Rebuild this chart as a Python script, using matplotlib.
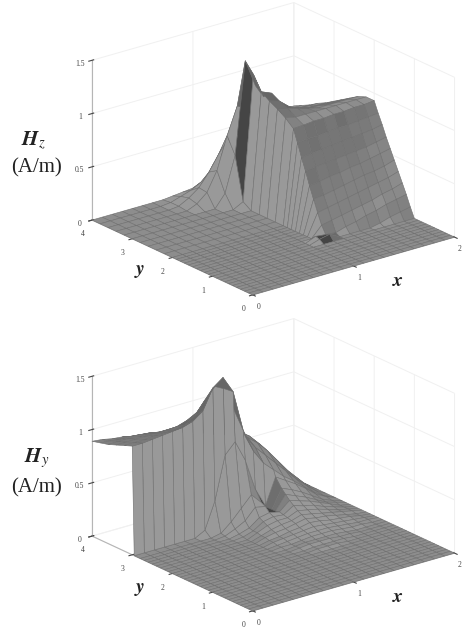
import numpy as np
import matplotlib
matplotlib.use('Agg')
import matplotlib.pyplot as plt

plt.rcParams['mathtext.fontset'] = 'stix'
plt.rcParams['font.family'] = ['Liberation Serif', 'DejaVu Serif']

x_vals = [0, .1, .2, .3, .4, .5, .6, .7, .8, .9, 1, 1.1, 1.2, 1.3, 1.4, 1.5, 1.6, 1.7, 1.8, 1.9, 2]
ZERO = [0, 0, 0, 0, 0, 0, 0, 0, 0, 0, 0, 0, 0, 0, 0, 0, 0, 0, 0, 0, 0]

# rows are y, columns are x
y_hz = [0, .1, .2, .3, .4, .5, .6, .7, .8, .9, 1, 1.1, 1.2, 1.3, 1.4, 1.5, 1.6, 1.7, 1.8, 1.9, 2,
        2.2, 2.4, 2.6, 2.8, 3, 3.2, 3.4, 3.6, 3.8, 4]
hz = [
    ZERO, ZERO, ZERO, ZERO, ZERO, ZERO, ZERO, ZERO, ZERO, ZERO, ZERO,
    [0, 0, 0, 0, 0, 0, 0, 0, 0, 0, 0, .03, .05, 0, 0, 0, 0, .02, .05, .07, .09],
    [0, 0, 0, 0, 0, 0, 0, 0, 0, 0, 0, .04, .03, .02, .05, .07, .1, .12, .15, .17, .19],
    [0, 0, 0, 0, 0, 0, 0, 0, 0, 0, 0, 0, .1, .12, .14, .16, .18, .2, .23, .25, .28],
    [0, 0, 0, 0, 0, 0, 0, 0, 0, 0, 0, 0, .2, .22, .24, .26, .28, .3, .32, .34, .37],
    [0, 0, 0, 0, 0, 0, 0, 0, 0, 0, 0, 0, .31, .32, .34, .36, .38, .4, .41, .43, .46],
    [0, 0, 0, 0, 0, 0, 0, 0, 0, 0, 0, 0, .42, .43, .45, .46, .48, .49, .51, .53, .55],
    [0, 0, 0, 0, 0, 0, 0, 0, 0, 0, 0, 0, .54, .55, .56, .57, .58, .59, .6, .62, .64],
    [0, 0, 0, 0, 0, 0, 0, 0, 0, 0, 0, 0, .65, .66, .67, .68, .69, .7, .71, .72, .74],
    [0, 0, 0, 0, 0, 0, 0, 0, 0, 0, 0, 0, .77, .78, .78, .79, .8, .8, .81, .82, .83],
    [0, 0, 0, 0, 0, 0, 0, 0, 0, 0, 0, 0, .885, .89, .9, .9, .91, .91, .92, .92, .93],
    [0, 0, 0, 0, 0, 0, 0, 0, 0, 0, 0, 0, .95, .93, .93, .93, .93, .93, .93, .93, .93],
    [0, 0, 0, 0, 0, 0, 0, 0, 0, 0, 0, 0, 1, .98, .95, .92, .9, .9, .9, .9, .9],
    [0, 0, 0, 0, 0, 0, 0, 0, 0, 0, 0, 0, 1.04, 1.01, .93, .89, .87, .86, .85, .85, .85],
    [0, 0, 0, 0, 0, 0, 0, 0, 0, 0, 0, 0, 1.09, 1.05, .92, .86, .83, .81, .8, .8, .8],
    [0, 0, 0, 0, 0, 0, 0, 0, 0, 0, 0, .05, 1.22, .98, .85, .8, .78, .76, .75, .75, .75],
    [0, 0, 0, 0, 0, 0, 0, 0, 0, 0, .12, .45, 1.31, 1.05, .8, .74, .72, .71, .7, .7, .7],
    [0, 0, 0, 0, 0, 0, 0, 0, .04, .12, .3, .6, .85, .8, .72, .68, .66, .66, .66, .66, .66],
    [0, 0, 0, 0, 0, 0, 0, .01, .06, .13, .25, .4, .52, .58, .6, .6, .61, .61, .61, .61, .61],
    [0, 0, 0, 0, 0, 0, 0, .01, .04, .07, .12, .2, .32, .42, .5, .55, .57, .57, .57, .57, .57],
    [0, 0, 0, 0, 0, 0, 0, 0, .01, .02, .03, .05, .2, .32, .42, .48, .5, .52, .53, .53, .53],
]

y_hy = [0, .1, .2, .3, .4, .5, .6, .7, .8, .9, 1, 1.1, 1.2, 1.3, 1.4, 1.5, 1.6, 1.7, 1.8, 1.9, 2,
        2.1, 2.2, 2.3, 2.4, 2.5, 2.6, 2.7, 2.8, 2.95, 3, 3.2, 3.4, 3.6, 3.8, 4]
hy = [
    ZERO, ZERO, ZERO, ZERO, ZERO, ZERO, ZERO, ZERO, ZERO, ZERO, ZERO, ZERO, ZERO, ZERO,
    [0, 0, 0, 0, 0, 0, 0, 0, 0, 0, 0, 0, .01, .01, .01, 0, 0, 0, 0, 0, 0],
    [0, 0, 0, 0, 0, 0, 0, 0, 0, 0, 0, 0, .01, .01, .01, .01, 0, 0, 0, 0, 0],
    [0, 0, 0, 0, 0, 0, 0, 0, 0, 0, 0, .01, .02, .02, .02, .01, .01, 0, 0, 0, 0],
    [0, 0, 0, 0, 0, 0, 0, 0, 0, 0, 0, .01, .02, .02, .02, .02, .01, 0, 0, 0, 0],
    [0, 0, 0, 0, 0, 0, 0, 0, 0, 0, .01, .01, .02, .03, .03, .03, .02, .01, .01, 0, 0],
    [0, 0, 0, 0, 0, 0, 0, 0, 0, 0, .01, .02, .03, .04, .04, .04, .03, .02, .01, .01, 0],
    [0, 0, 0, 0, 0, 0, 0, 0, 0, 0, .02, .03, .04, .05, .06, .05, .04, .03, .02, .01, 0],
    [0, 0, 0, 0, 0, 0, 0, 0, 0, 0, .02, .03, .05, .06, .08, .07, .05, .04, .03, .01, 0],
    [0, 0, 0, 0, 0, 0, 0, 0, 0, 0, .03, .05, .06, .08, .1, .08, .07, .05, .03, .01, 0],
    [0, 0, 0, 0, 0, 0, 0, 0, 0, 0, .03, .06, .08, .09, .12, .1, .08, .06, .04, .02, 0],
    [0, 0, 0, 0, 0, 0, 0, 0, 0, 0, .04, .08, .1, .1, .14, .12, .1, .07, .04, .02, 0],
    [0, 0, 0, 0, 0, 0, 0, 0, 0, .01, .04, .1, .12, .11, .17, .14, .12, .08, .05, .02, 0],
    [0, 0, 0, 0, 0, 0, 0, 0, 0, .02, .05, .12, .14, .12, .2, .17, .14, .1, .06, .02, 0],
    [0, 0, 0, 0, 0, 0, 0, 0, .01, .05, .1, .2, .18, .11, .24, .2, .16, .11, .06, .03, 0],
    [0, 0, 0, 0, 0, 0, 0, 0, .02, .1, .2, .3, .2, .1, .28, .24, .19, .13, .07, .03, 0],
    [0, 0, 0, 0, 0, 0, 0, .05, .3, .7, .8, .6, .3, .12, .36, .3, .24, .17, .09, .04, 0],
    [1.02, 1.02, 1.03, 1.04, 1.05, 1.06, 1.09, 1.16, 1.35, 1.42, 1.26, .87, .65, .51, .42, .33, .26, .18, .1, .04, 0],
    [.99, .99, .99, 1, 1, 1, 1.02, 1.08, 1.2, 1.3, 1.25, 1, .75, .62, .52, .42, .32, .22, .13, .05, 0],
    [.96, .96, .96, .96, .96, .96, .97, 1, 1.05, 1.15, 1.12, .95, .78, .68, .6, .5, .38, .26, .16, .06, 0],
    [.93, .93, .93, .92, .92, .91, .91, .91, .93, .95, .92, .85, .75, .7, .63, .53, .4, .28, .17, .07, 0],
    [.91, .9, .89, .89, .88, .87, .85, .84, .83, .81, .78, .74, .7, .66, .6, .53, .39, .27, .17, .07, 0],
    [.89, .88, .86, .85, .83, .82, .8, .78, .76, .73, .7, .67, .63, .6, .56, .53, .36, .24, .16, .07, 0],
]

x_ticks = [0, 1, 2]
y_ticks = [0, 1, 2, 3, 4]
z_ticks = [0, .5, 1, 1.5]
z_ticklabels = ['0', '0.5', '1', '1.5']


def cell_colors(y_vals, z_table, light, dark_cells):
    # flat gray per mesh cell from its slope, a few cells forced dark
    z = np.array(z_table, dtype=float)
    dx = np.diff(x_vals)[None, :]
    dy = np.diff(y_vals)[:, None]
    dzdx = (np.diff(z, axis=1)[:-1, :] + np.diff(z, axis=1)[1:, :]) / 2 / dx
    dzdy = (np.diff(z, axis=0)[:, :-1] + np.diff(z, axis=0)[:, 1:]) / 2 / dy
    norm = np.sqrt(dzdx ** 2 + dzdy ** 2 + 1)
    shade = (-dzdx * light[0] - dzdy * light[1] + light[2]) / norm
    gray = np.clip(0.2 + 0.55 * shade, 0.4, 0.6)
    for row, col in dark_cells:
        gray[row, col] = 0.27
    return np.dstack([gray, gray, gray, np.ones_like(gray)])


def draw_surface(fig, rect, y_vals, z_table, light, dark_cells):
    ax = fig.add_axes(rect, projection='3d', proj_type='ortho')
    ax.set_facecolor('none')
    ax.set_box_aspect((257, 261, 172))
    ax.view_init(elev=21.4, azim=-128.1)
    X, Y = np.meshgrid(x_vals, y_vals)
    ax.plot_surface(X, Y, np.array(z_table), rstride=1, cstride=1, shade=False,
                    facecolors=cell_colors(y_vals, z_table, light, dark_cells),
                    edgecolor='#6e6e6e', linewidth=0.4)
    ax.set_xlim(0, 2)
    ax.set_ylim(0, 4)
    ax.set_zlim(0, 1.5)
    ax.set_xticks(x_ticks)
    ax.set_yticks(y_ticks)
    ax.set_zticks(z_ticks)
    ax.set_zticklabels(z_ticklabels)
    ax.tick_params(labelsize=5.5, pad=-3, colors='#444444', length=0)
    ax.tick_params(axis='y', pad=-1)
    for axis in (ax.xaxis, ax.yaxis, ax.zaxis):
        axis.set_pane_color((1, 1, 1, 0))
        axis.line.set_color('#b5b5b5')
        axis._axinfo['grid']['color'] = '#f0f0f0'
        axis._axinfo['grid']['linewidth'] = 0.7
    return ax


W, H = 468, 628
fig = plt.figure(figsize=(W / 100, H / 100), dpi=100)

draw_surface(fig, [72 / W, 278 / H, 392 / W, 392 / H], y_hz, hz, (-.77, 0, .64),
             [(25, 11), (10, 11), (11, 11)])
draw_surface(fig, [72 / W, -38 / H, 392 / W, 392 / H], y_hy, hy, (-.05, -.75, .64),
             [(26, 12), (27, 12), (28, 12)])

label = dict(ha='center', va='center', color='#222222')
fig.text(33 / W, 1 - 141 / H, r'$\mathbfit{H}_{z}$', fontsize=15, **label)
fig.text(37 / W, 1 - 168 / H, '(A/m)', fontsize=15, **label)
fig.text(140 / W, 1 - 272 / H, r'$\mathbfit{y}$', fontsize=14, **label)
fig.text(398 / W, 1 - 282 / H, r'$\mathbfit{x}$', fontsize=14, **label)
fig.text(37 / W, 1 - 458 / H, r'$\mathbfit{H}_{y}$', fontsize=15, **label)
fig.text(37 / W, 1 - 488 / H, '(A/m)', fontsize=15, **label)
fig.text(140 / W, 1 - 589 / H, r'$\mathbfit{y}$', fontsize=14, **label)
fig.text(398 / W, 1 - 597 / H, r'$\mathbfit{x}$', fontsize=14, **label)

fig.savefig('out.png', dpi=100)
